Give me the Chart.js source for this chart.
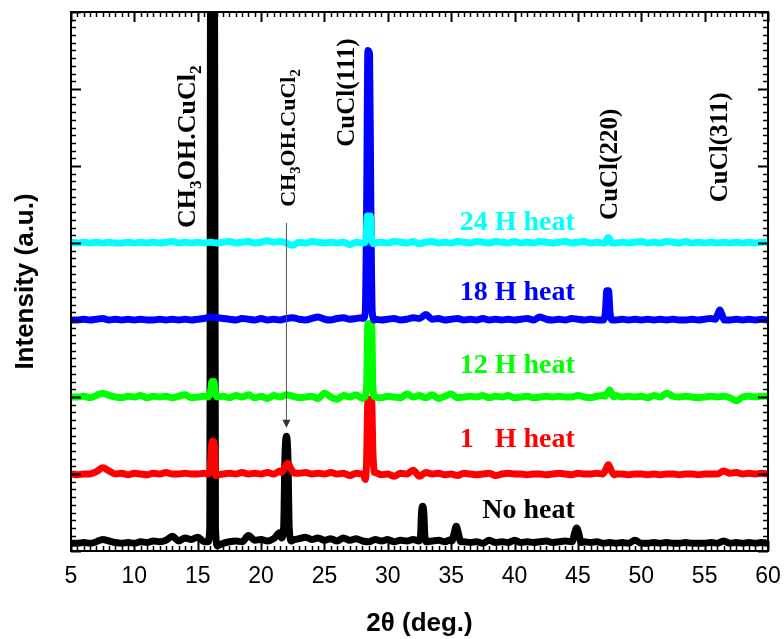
<!DOCTYPE html>
<html><head><meta charset="utf-8">
<script src="https://cdn.jsdelivr.net/npm/chart.js@4.4.0/dist/chart.umd.min.js"></script>
<style>html,body{margin:0;padding:0;background:#fff;}canvas{display:block;}</style>
</head><body>
<canvas id="c" width="784" height="639"></canvas>
<script>
// ---------- DATA ----------
const twoTheta = [5,5.5,6,6.5,7,7.5,8,8.5,9,9.5,10,10.5,11,11.5,12,12.5,13,13.5,14,14.5,15,15.5,16,16.5,17,17.5,18,18.5,19,19.5,20,20.5,21,21.5,22,22.5,23,23.5,24,24.5,25,25.5,26,26.5,27,27.5,28,28.5,29,29.5,30,30.5,31,31.5,32,32.5,33,33.5,34,34.5,35,35.5,36,36.5,37,37.5,38,38.5,39,39.5,40,40.5,41,41.5,42,42.5,43,43.5,44,44.5,45,45.5,46,46.5,47,47.5,48,48.5,49,49.5,50,50.5,51,51.5,52,52.5,53,53.5,54,54.5,55,55.5,56,56.5,57,57.5,58,58.5,59,59.5,60];

const xTickValues = [5,10,15,20,25,30,35,40,45,50,55,60];
const xTickLabels = ['5','10','15','20','25','30','35','40','45','50','55','60'];

const seriesNames = ['24 H heat','18 H heat','12 H heat','1   H heat','No heat'];

const noHeat = [
.10,.10,.11,.10,.12,.15,.13,.11,.10,.11,
.10,.12,.11,.13,.12,.14,.19,.13,.17,.15,
.18,.12,.12,.08,.10,.12,.13,.12,.20,.14,
.15,.13,.16,.24,.15,.14,.16,.18,.15,.17,
.14,.16,.13,.17,.14,.16,.13,.12,.15,.13,
.15,.12,.14,.13,.15,.12,.12,.13,.14,.12,
.15,.14,.12,.11,.12,.10,.14,.11,.12,.11,
.14,.11,.12,.11,.12,.13,.11,.12,.13,.12,
.12,.12,.11,.12,.10,.11,.10,.11,.10,.14,
.10,.10,.11,.10,.11,.10,.10,.11,.10,.10,
.10,.11,.10,.13,.10,.11,.10,.11,.10,.11,
.10];
const noHeatPeaks = [
 [[15.8,.12],[15.95,.3],[16.02,7.8],[16.32,7.8],[16.4,.3],[16.55,.07]],
 [[21.6,.17],[21.78,.3],[21.88,1.2],[22.0,1.49],[22.12,1.2],[22.22,.3],[22.4,.13]],
 [[32.45,.13],[32.58,.2],[32.66,.5],[32.75,.58],[32.84,.5],[32.92,.2],[33.05,.12]],
 [[35.05,.13],[35.22,.22],[35.4,.32],[35.58,.22],[35.75,.12]],
 [[44.55,.12],[44.72,.22],[44.9,.30],[45.08,.22],[45.25,.11]]
];

const oneHour = [
1.00,.99,1.00,1.00,1.03,1.08,1.04,1.00,1.01,.99,
1.01,1.00,.99,1.01,1.00,1.02,1.00,1.00,1.01,1.00,
1.00,1.01,1.00,1.00,1.00,1.01,1.00,1.02,1.00,1.01,
1.00,1.02,1.00,1.04,1.10,1.05,1.01,1.02,1.00,1.01,
1.00,1.02,1.00,1.01,.98,1.01,1.00,1.00,1.02,.99,
1.00,.97,1.01,1.00,1.05,.97,1.02,1.00,1.01,.99,
1.00,.98,1.01,1.00,.99,1.00,1.01,.98,1.00,1.01,
1.00,1.00,.99,1.00,1.00,.99,1.00,1.01,1.00,.99,
1.01,1.00,1.00,1.01,1.00,1.00,1.00,1.00,.99,1.00,
1.00,.99,1.00,.99,1.00,1.00,.99,1.00,1.00,.99,
1.00,1.00,1.00,1.04,1.01,1.02,1.00,1.01,1.00,1.01,
1.00];
const oneHourPeaks = [
 [[15.8,1.0],[15.98,1.05],[16.08,1.35],[16.2,1.43],[16.32,1.35],[16.42,.98],[16.6,.99]],
 [[21.6,1.02],[21.85,1.08],[22.1,1.14],[22.35,1.07],[22.65,1.01]],
 [[28.05,1.0],[28.22,.93],[28.33,1.2],[28.43,1.97],[28.72,1.97],[28.82,1.3],[28.95,1.02]],
 [[46.95,1.0],[47.18,1.05],[47.4,1.12],[47.62,1.05],[47.85,.99]]
];

const twelveHour = [
2.00,2.00,2.01,1.99,2.02,2.05,2.02,2.00,1.99,2.01,
2.00,2.02,1.99,2.01,2.00,2.01,1.99,2.01,2.03,1.99,
2.00,2.01,2.00,2.00,2.01,1.99,2.02,2.00,2.03,1.99,
2.01,1.98,2.02,2.00,2.03,2.01,1.99,2.00,2.01,1.98,
2.05,2.00,1.97,2.02,2.00,2.03,1.98,2.00,2.00,1.99,
2.01,2.00,1.99,2.04,2.00,2.02,1.99,2.03,1.98,2.01,
2.04,1.99,2.00,2.01,2.00,2.02,1.99,2.01,2.00,2.02,
1.99,2.00,2.01,1.99,2.00,2.01,2.00,2.01,2.00,2.00,
2.02,2.00,1.99,2.01,2.02,2.03,2.02,2.00,2.01,2.00,
2.01,1.99,2.02,2.00,2.05,2.01,2.00,2.01,2.00,1.99,
2.00,2.01,2.00,2.01,1.99,1.95,2.00,2.01,2.00,2.01,
2.01];
const twelveHourPeaks = [
 [[15.85,2.0],[16.02,2.08],[16.12,2.2],[16.28,2.2],[16.38,2.05],[16.55,2.0]],
 [[28.15,2.0],[28.32,2.1],[28.43,2.95],[28.72,2.95],[28.83,2.1],[29.0,2.0]],
 [[47.15,2.01],[47.33,2.05],[47.5,2.09],[47.67,2.04],[47.85,2.0]]
];

const eighteenHour = [
3.00,3.00,3.01,3.00,3.01,3.02,3.00,3.01,3.00,3.01,
3.00,3.01,3.00,3.00,3.01,3.00,3.01,3.00,3.01,3.00,
3.01,3.02,3.04,3.03,3.02,3.01,3.00,3.02,3.01,3.00,
3.02,3.00,3.01,3.00,3.02,3.03,3.01,3.00,3.02,3.04,
3.01,3.00,3.02,3.03,3.01,3.02,3.03,3.02,3.01,3.00,
3.01,3.02,3.00,3.01,3.03,3.02,3.07,3.01,3.02,3.00,
3.01,3.02,3.00,3.01,3.00,3.02,3.00,3.01,3.00,3.01,
3.00,3.01,3.02,3.00,3.04,3.01,3.00,3.01,3.00,3.02,
3.01,3.00,3.01,3.00,3.01,3.02,3.00,3.01,3.00,3.01,
3.00,3.01,3.00,3.01,3.00,3.01,3.00,3.00,3.01,3.00,
3.01,3.02,3.04,3.01,3.00,3.01,3.00,3.01,3.00,3.01,
3.00];
const eighteenHourPeaks = [
 [[28.05,3.02],[28.22,3.1],[28.33,4.5],[28.43,6.5],[28.56,6.45],[28.66,4.5],[28.77,3.1],[28.95,3.0]],
 [[47.0,3.0],[47.17,3.1],[47.28,3.38],[47.42,3.38],[47.53,3.1],[47.7,3.0]],
 [[55.85,3.01],[56.03,3.07],[56.2,3.13],[56.37,3.07],[56.55,3.0]]
];

const twentyFourHour = [
4.01,4.00,4.01,4.00,4.01,4.00,4.01,4.00,4.00,4.01,
4.00,4.01,4.00,4.01,4.00,4.01,4.02,4.00,4.01,4.00,
4.01,4.00,4.01,4.00,4.01,4.02,4.00,4.01,4.02,4.00,
4.01,4.03,4.01,4.02,4.00,3.97,4.01,4.00,4.02,4.01,
4.00,4.01,4.00,4.01,3.98,4.01,4.00,4.00,4.00,4.01,
4.00,4.02,4.01,4.00,4.02,3.99,4.01,4.02,4.00,4.01,
4.00,4.02,4.01,4.00,4.02,4.01,4.00,4.02,4.01,4.00,
4.02,4.00,4.01,4.00,4.02,4.01,4.00,4.01,4.02,4.00,
4.01,4.02,4.00,4.01,4.00,4.00,4.00,4.01,4.00,4.01,
4.02,4.00,4.01,4.00,4.02,4.01,4.00,4.02,4.00,4.01,
4.00,4.01,4.00,4.01,4.00,4.01,4.00,4.01,4.00,4.01,
4.01];
const twentyFourHourPeaks = [
 [[28.12,4.0],[28.28,4.05],[28.38,4.35],[28.62,4.35],[28.72,4.05],[28.88,3.99]],
 [[47.12,4.0],[47.28,4.05],[47.4,4.07],[47.52,4.05],[47.68,4.0]]
];

// ---------- BUILD ----------
function buildSeries(base, peaks) {
  const pts = twoTheta.map((x, i) => ({x, y: base[i]}))
    .filter(p => !peaks.some(pk => p.x >= pk[0][0] && p.x <= pk[pk.length - 1][0]));
  peaks.forEach(pk => pk.forEach(([x, y]) => pts.push({x, y})));
  pts.sort((a, b) => a.x - b.x);
  return pts;
}

const colors = ['#00ffff', '#0000ff', '#00ff00', '#ff0000', '#000000'];
const bases = [twentyFourHour, eighteenHour, twelveHour, oneHour, noHeat];
const peakSets = [twentyFourHourPeaks, eighteenHourPeaks, twelveHourPeaks, oneHourPeaks, noHeatPeaks];

const datasets = bases.map((b, i) => ({
  label: seriesNames[i],
  data: buildSeries(b, peakSets[i]),
  borderColor: colors[i],
  backgroundColor: colors[i],
  borderWidth: 7,
  pointRadius: 0,
  fill: false,
  cubicInterpolationMode: 'monotone',
  borderJoinStyle: 'round',
  borderCapStyle: 'round',
  clip: 0
}));

// annotation config (value coords)
const seriesLabelPos = [ {x:44.75, y:4.17}, {x:44.75, y:3.26}, {x:44.75, y:2.31}, {x:44.75, y:1.35}, {x:44.75, y:0.43} ];
const peakLabels = [
  {x:14.75, y:4.195, size:26, parts:[['CH',0],['3',1],['OH.CuCl',0],['2',1]]},
  {x:22.64, y:4.47, size:22, parts:[['CH',0],['3',1],['OH.CuCl',0],['2',1]]},
  {x:27.37, y:5.25, size:25, parts:[['CuCl(111)',0]]},
  {x:48.06, y:4.30, size:25, parts:[['CuCl(220)',0]]},
  {x:56.74, y:4.53, size:25, parts:[['CuCl(311)',0]]}
];
const arrowSpec = {x:22.0, y1:4.26, y2:1.60};

const decor = {
  id: 'decor',
  afterDatasetsDraw(chart) {
    const {ctx, chartArea: a, scales: {x: xs, y: ys}} = chart;
    ctx.save();
    ctx.strokeStyle = '#000';
    ctx.lineCap = 'butt';
    for (let k = 0; k <= 110; k++) {
      const v = 5 + k * 0.5;
      const px = Math.round(xs.getPixelForValue(v)) + 0.5;
      const major = k % 10 === 0;
      const L = major ? 10 : 5;
      ctx.lineWidth = major ? 2 : 1.5;
      ctx.beginPath();
      ctx.moveTo(px, a.bottom); ctx.lineTo(px, a.bottom - L);
      ctx.moveTo(px, a.top); ctx.lineTo(px, a.top + L);
      ctx.stroke();
    }
    for (let k = 0; k <= 70; k++) {
      const v = k * 0.1;
      const py = Math.round(ys.getPixelForValue(v)) + 0.5;
      const major = k % 10 === 0;
      const L = major ? 10 : 5;
      ctx.lineWidth = major ? 2 : 1.5;
      ctx.beginPath();
      ctx.moveTo(a.left, py); ctx.lineTo(a.left + L, py);
      ctx.moveTo(a.right, py); ctx.lineTo(a.right - L, py);
      ctx.stroke();
    }
    ctx.lineWidth = 2;
    ctx.strokeRect(a.left, a.top, a.right - a.left, a.bottom - a.top);

    // arrow
    const ax = xs.getPixelForValue(arrowSpec.x);
    const ay1 = ys.getPixelForValue(arrowSpec.y1);
    const ay2 = ys.getPixelForValue(arrowSpec.y2);
    ctx.strokeStyle = '#555';
    ctx.fillStyle = '#333';
    ctx.lineWidth = 1;
    ctx.beginPath(); ctx.moveTo(ax, ay1); ctx.lineTo(ax, ay2 - 6); ctx.stroke();
    ctx.beginPath(); ctx.moveTo(ax, ay2); ctx.lineTo(ax - 4, ay2 - 8); ctx.lineTo(ax + 4, ay2 - 8); ctx.closePath(); ctx.fill();

    // series labels
    ctx.textAlign = 'right';
    ctx.textBaseline = 'alphabetic';
    ctx.font = 'bold 28px "Liberation Serif"';
    seriesLabelPos.forEach((p, i) => {
      ctx.fillStyle = colors[i];
      ctx.fillText(seriesNames[i], xs.getPixelForValue(p.x), ys.getPixelForValue(p.y));
    });

    // rotated peak labels
    ctx.fillStyle = '#000';
    peakLabels.forEach(lb => {
      ctx.save();
      ctx.translate(xs.getPixelForValue(lb.x), ys.getPixelForValue(lb.y));
      ctx.rotate(-Math.PI / 2);
      ctx.textAlign = 'left';
      ctx.textBaseline = 'alphabetic';
      let cx = 0;
      lb.parts.forEach(([t, sub]) => {
        const s = sub ? lb.size * 0.67 : lb.size;
        ctx.font = 'bold ' + s + 'px "Liberation Serif"';
        ctx.fillText(t, cx, sub ? lb.size * 0.26 : 0);
        cx += ctx.measureText(t).width;
      });
      ctx.restore();
    });
    ctx.restore();
  }
};

new Chart(document.getElementById('c'), {
  type: 'line',
  data: {datasets},
  options: {
    responsive: false,
    animation: false,
    events: [],
    layout: {padding: {top: 12, right: 16, left: 0, bottom: 0}},
    plugins: {legend: {display: false}, tooltip: {enabled: false}},
    scales: {
      x: {
        type: 'linear', min: 5, max: 60,
        afterBuildTicks: s => { s.ticks = xTickValues.map(v => ({value: v})); },
        ticks: {
          autoSkip: false, maxRotation: 0, padding: 12, color: '#000',
          font: {family: 'Liberation Sans', size: 23},
          callback: (v, i) => xTickLabels[i]
        },
        grid: {display: false, drawTicks: false},
        border: {display: false},
        title: {display: true, text: '2θ (deg.)', color: '#000',
          font: {family: 'Liberation Sans', size: 26, weight: 'bold'}, padding: {top: 0, bottom: 0}},
        afterFit: s => { s.height = 88; s.paddingLeft = 0; s.paddingRight = 0; }
      },
      y: {
        min: 0, max: 7,
        ticks: {display: false},
        grid: {display: false, drawTicks: false},
        border: {display: false},
        title: {display: true, text: 'Intensity (a.u.)', color: '#000',
          font: {family: 'Liberation Sans', size: 26, weight: 'bold'}, padding: {top: 10, bottom: 0}},
        afterFit: s => { s.width = 71; s.paddingTop = 0; s.paddingBottom = 0; }
      }
    }
  },
  plugins: [decor]
});
</script>
</body></html>
